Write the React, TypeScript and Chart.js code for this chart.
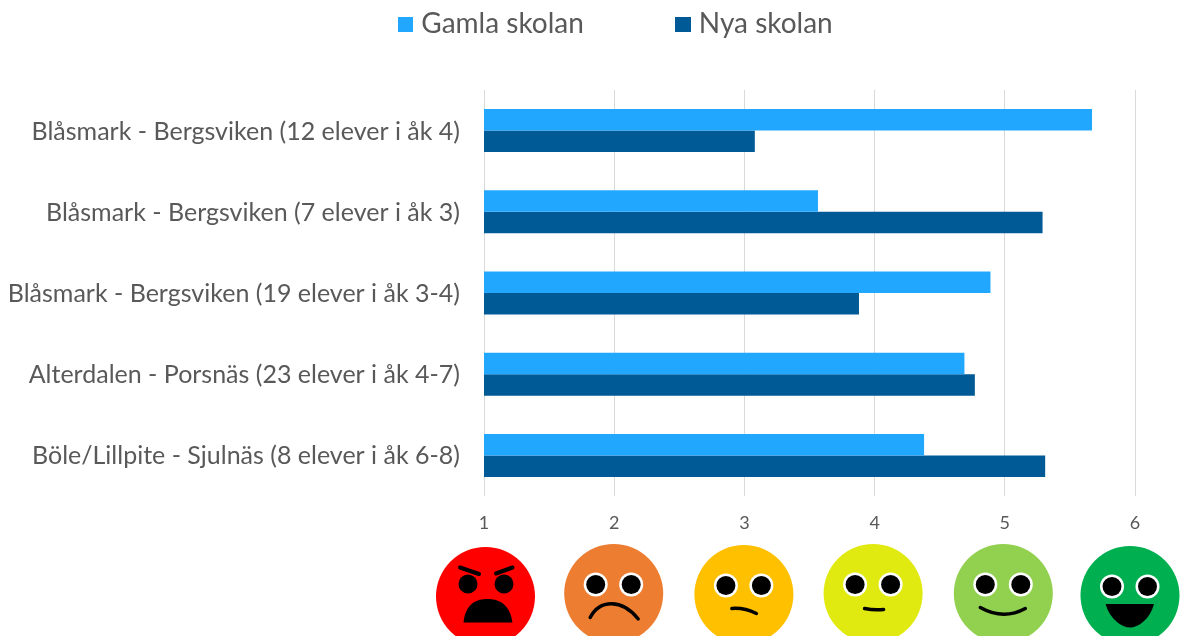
import React, { useEffect, useRef } from "react";
import { Chart, registerables } from "chart.js";

Chart.register(...registerables);

const categories = [
  "Blåsmark - Bergsviken (12 elever i åk 4)",
  "Blåsmark - Bergsviken (7 elever i åk 3)",
  "Blåsmark - Bergsviken (19 elever i åk 3-4)",
  "Alterdalen - Porsnäs (23 elever i åk 4-7)",
  "Böle/Lillpite - Sjulnäs (8 elever i åk 6-8)",
];
const gamlaSkolan = [5.67, 3.565, 4.89, 4.69, 4.38];
const nyaSkolan = [3.08, 5.29, 3.88, 4.77, 5.31];
const seriesNames = ["Gamla skolan", "Nya skolan"];

const FONT = "Lato, 'Open Sans', sans-serif";
const TEXT = "#595959";
const GAMLA = "#22A7FF";
const NYA = "#005A96";

const faceValues = [1, 2, 3, 4, 5, 6];
const faceColors = ["#FF0000", "#ED7D31", "#FFC000", "#E1EA10", "#92D050", "#00B050"];
const faceDx = [1.5, -0.5, -0.5, -1.5, -1.5, -5];
const faceCy = [596.5, 593.5, 594.5, 593.5, 593.5, 595.5];

function swatch(color: string, w: number, h: number) {
  const c = document.createElement("canvas");
  c.width = w;
  c.height = h;
  const g = c.getContext("2d")!;
  g.fillStyle = color;
  g.fillRect(0, 0, w, h);
  return c;
}

function drawFace(ctx: CanvasRenderingContext2D, i: number, cx: number, cy: number) {
  const r = 49.5;
  ctx.save();
  ctx.fillStyle = faceColors[i];
  ctx.beginPath();
  ctx.arc(cx, cy, r, 0, Math.PI * 2);
  ctx.fill();

  const eye = (x: number, y: number, white: boolean) => {
    if (white) {
      ctx.fillStyle = "#FFFFFF";
      ctx.beginPath();
      ctx.arc(x, y, 12, 0, Math.PI * 2);
      ctx.fill();
    }
    ctx.fillStyle = "#000000";
    ctx.beginPath();
    ctx.arc(x, y, 9.5, 0, Math.PI * 2);
    ctx.fill();
  };
  ctx.strokeStyle = "#000000";
  ctx.fillStyle = "#000000";
  ctx.lineCap = "round";

  if (i === 0) {
    eye(cx - 17.5, cy - 12.5, false);
    eye(cx + 18.5, cy - 12.5, false);
    ctx.lineWidth = 4;
    ctx.beginPath();
    ctx.moveTo(cx - 25.5, cy - 29);
    ctx.lineTo(cx - 6.5, cy - 22.5);
    ctx.moveTo(cx + 27, cy - 29);
    ctx.lineTo(cx + 10.5, cy - 23);
    ctx.stroke();
    ctx.fillStyle = "#000000";
    ctx.beginPath();
    ctx.moveTo(cx - 22, cy + 26);
    ctx.bezierCurveTo(cx - 20, cy + 6, cx - 8, cy + 2.5, cx + 2, cy + 2.5);
    ctx.bezierCurveTo(cx + 12, cy + 2.5, cx + 24, cy + 6, cx + 27, cy + 26);
    ctx.closePath();
    ctx.fill();
  } else {
    const ey = cy - 9;
    eye(cx - 18, ey, true);
    eye(cx + 17.5, ey, true);
    ctx.lineWidth = 3.5;
    ctx.beginPath();
    if (i === 1) {
      ctx.moveTo(cx - 23.5, cy + 24);
      ctx.bezierCurveTo(cx - 14, cy + 6, cx + 8, cy + 5, cx + 24.5, cy + 25.5);
      ctx.stroke();
    } else if (i === 2) {
      ctx.moveTo(cx - 12, cy + 14);
      ctx.quadraticCurveTo(cx, cy + 13, cx + 12.5, cy + 19);
      ctx.stroke();
    } else if (i === 3) {
      ctx.moveTo(cx - 8.5, cy + 15);
      ctx.quadraticCurveTo(cx + 1, cy + 17, cx + 10.5, cy + 16);
      ctx.stroke();
    } else if (i === 4) {
      ctx.moveTo(cx - 23, cy + 14);
      ctx.quadraticCurveTo(cx, cy + 27, cx + 22, cy + 15);
      ctx.stroke();
    } else {
      ctx.beginPath();
      ctx.moveTo(cx - 24.5, cy + 8.5);
      ctx.lineTo(cx + 24, cy + 8.5);
      ctx.bezierCurveTo(cx + 20, cy + 24, cx + 8, cy + 32, cx, cy + 32);
      ctx.bezierCurveTo(cx - 8, cy + 32, cx - 20, cy + 24, cx - 24.5, cy + 8.5);
      ctx.closePath();
      ctx.fill();
    }
  }
  ctx.restore();
}

const facesPlugin = {
  id: "faces",
  afterLayout(chart: any) {
    const lg = chart.legend;
    if (lg) {
      const pad = lg.options.labels.padding;
      lg.left += 51;
      lg.right += 51;
      lg.top = 24 - 14 - pad;
    }
  },
  afterDraw(chart: any) {
    const ctx = chart.ctx;
    faceValues.forEach((v, i) => {
      drawFace(ctx, i, chart.scales.x.getPixelForValue(v) + faceDx[i], faceCy[i]);
    });
  },
};

export default function App() {
  const ref = useRef<HTMLCanvasElement>(null);
  useEffect(() => {
    document.body.style.margin = "0";
    const chart = new Chart(ref.current!, {
      type: "bar",
      plugins: [facesPlugin],
      data: {
        labels: categories,
        datasets: [
          { label: seriesNames[0], data: gamlaSkolan, backgroundColor: GAMLA, pointStyle: swatch(GAMLA, 15, 15), barPercentage: 1, categoryPercentage: 0.53 },
          { label: seriesNames[1], data: nyaSkolan, backgroundColor: NYA, pointStyle: swatch(NYA, 16, 15), barPercentage: 1, categoryPercentage: 0.53 },
        ],
      },
      options: {
        indexAxis: "y",
        responsive: false,
        animation: false,
        layout: { padding: { left: 0, right: 46, top: 0, bottom: 0 } },
        plugins: {
          tooltip: { enabled: false },
          legend: {
            position: "top",
            maxHeight: 90,
            labels: {
              usePointStyle: true,
              pointStyleWidth: 3,
              boxHeight: 15,
              padding: 98,
              color: TEXT,
              font: { family: FONT, size: 28 },
            },
          },
        },
        scales: {
          x: {
            position: "bottom",
            min: 1,
            max: 6,
            ticks: { stepSize: 1, color: TEXT, padding: 16, font: { family: FONT, size: 18 } },
            grid: { color: "#D9D9D9", lineWidth: 1, drawTicks: false },
            border: { display: false },
            afterFit(s: any) { s.height = 140; },
          },
          y: {
            position: "left",
            ticks: { color: TEXT, padding: 24, labelOffset: 1, font: { family: FONT, size: 25 }, autoSkip: false },
            grid: { display: false, drawTicks: false },
            border: { display: false },
            afterFit(s: any) { s.width = 484; },
          },
        },
      },
    } as any);
    return () => chart.destroy();
  }, []);
  return (
    <div style={{ position: "fixed", left: 0, top: 0, width: 1181, height: 636, overflow: "hidden", background: "#fff" }}>
      <canvas ref={ref} width={1181} height={636} style={{ display: "block" }} />
    </div>
  );
}
